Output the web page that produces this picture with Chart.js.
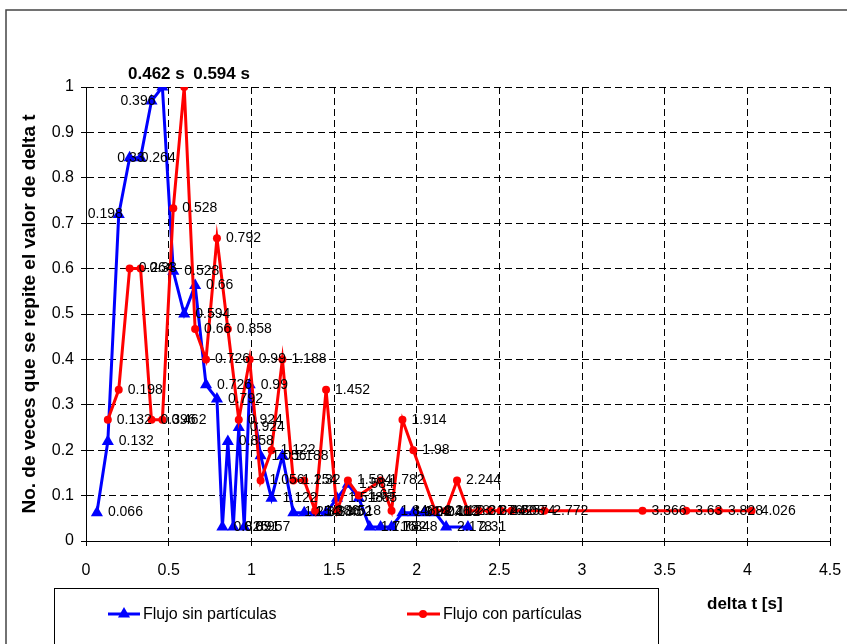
<!DOCTYPE html>
<html>
<head>
<meta charset="utf-8">
<script src="https://cdn.jsdelivr.net/npm/chart.js@4.4.1/dist/chart.umd.min.js"></script>
<style>
  body { margin: 0; background: #fff; }
  canvas { display: block; }
</style>
</head>
<body>
<canvas id="deltaChart" width="847" height="644"></canvas>
<script>
// Flujo sin particulas (delta t, frecuencia relativa)
const sinX = [0.066, 0.132, 0.198, 0.264, 0.33, 0.396, 0.462, 0.528, 0.594, 0.66, 0.726, 0.792,
    0.825, 0.858, 0.891, 0.924, 0.957, 0.99, 1.056, 1.122, 1.188, 1.254, 1.32, 1.386, 1.452,
    1.518, 1.584, 1.65, 1.716, 1.782, 1.848, 1.914, 1.98, 2.046, 2.112, 2.178, 2.31];
const sinY = [0.0625, 0.219, 0.719, 0.844, 0.844, 0.969, 1.0, 0.594, 0.5, 0.563, 0.344, 0.313,
    0.031, 0.219, 0.031, 0.25, 0.031, 0.344, 0.188, 0.094, 0.188, 0.0625, 0.0625, 0.0625, 0.0625,
    0.094, 0.125, 0.094, 0.031, 0.031, 0.031, 0.0625, 0.0625, 0.0625, 0.0625, 0.031, 0.031];

// Flujo con particulas
const conX = [0.132, 0.198, 0.264, 0.33, 0.396, 0.462, 0.528, 0.594, 0.66, 0.726, 0.792, 0.858,
    0.924, 0.99, 1.056, 1.122, 1.188, 1.254, 1.32, 1.386, 1.452, 1.518, 1.584, 1.65, 1.782,
    1.848, 1.914, 1.98, 2.112, 2.178, 2.244, 2.31, 2.376, 2.442, 2.508, 2.574, 2.772, 3.366,
    3.63, 3.828, 4.026];
const conY = [0.267, 0.333, 0.6, 0.6, 0.267, 0.267, 0.733, 1.0, 0.467, 0.4, 0.667, 0.467,
    0.267, 0.4, 0.133, 0.2, 0.4, 0.133, 0.133, 0.0667, 0.333, 0.0667, 0.133, 0.1, 0.133,
    0.0667, 0.267, 0.2, 0.0667, 0.0667, 0.133, 0.0667, 0.0667, 0.0667, 0.0667, 0.0667, 0.0667, 0.0667,
    0.0667, 0.0667, 0.0667];

// Axis ticks
const xTicks = [0, 0.5, 1, 1.5, 2, 2.5, 3, 3.5, 4, 4.5];
const yTicks = [0, 0.1, 0.2, 0.3, 0.4, 0.5, 0.6, 0.7, 0.8, 0.9, 1];

const seriesNames = ['Flujo sin partículas', 'Flujo con partículas'];
const FONT = 'Arial, "Liberation Sans", sans-serif';

// blue labels that were moved to the left of their point
const leftLabels = [0.198, 0.33, 0.396];

function toPoints(xs, ys) {
    return xs.map((x, i) => ({ x: x, y: ys[i] }));
}

function triangle(ctx, x, y, r) {
    ctx.beginPath();
    ctx.moveTo(x, y - r);
    ctx.lineTo(x + r * 0.866, y + r * 0.5);
    ctx.lineTo(x - r * 0.866, y + r * 0.5);
    ctx.closePath();
    ctx.fill();
}

// Data labels, titles, legend box and frame
const extras = {
    id: 'extras',
    afterDatasetsDraw(chart) {
        const ctx = chart.ctx;
        ctx.save();
        ctx.fillStyle = '#000';
        ctx.textBaseline = 'middle';
        chart.data.datasets.forEach((ds, di) => {
            const meta = chart.getDatasetMeta(di);
            const maxY = Math.max(...ds.data.map(p => p.y));
            meta.data.forEach((pt, i) => {
                const v = ds.data[i];
                if (v.y === maxY) {
                    ctx.font = 'bold 17px ' + FONT;
                    if (di === 0) {
                        ctx.textAlign = 'center';
                        ctx.fillText(v.x + ' s', pt.x - 6, pt.y - 13);
                    } else {
                        ctx.textAlign = 'left';
                        ctx.fillText(v.x + ' s', pt.x + 9, pt.y - 13);
                    }
                    return;
                }
                ctx.font = '14px ' + FONT;
                if (di === 0 && leftLabels.includes(v.x)) {
                    ctx.textAlign = 'right';
                    ctx.fillText(String(v.x), pt.x + 4, pt.y);
                } else {
                    ctx.textAlign = 'left';
                    ctx.fillText(String(v.x), pt.x + (di === 0 ? 11 : 9), pt.y);
                }
            });
        });
        ctx.restore();
    },
    afterDraw(chart) {
        const ctx = chart.ctx;
        const area = chart.chartArea;
        ctx.save();

        // outer frame
        ctx.strokeStyle = '#444';
        ctx.lineWidth = 1.5;
        ctx.strokeRect(6, 10, 900, 900);

        // y axis title
        ctx.fillStyle = '#000';
        ctx.font = 'bold 19px ' + FONT;
        ctx.textAlign = 'center';
        ctx.textBaseline = 'middle';
        ctx.save();
        ctx.translate(30, (area.top + area.bottom) / 2);
        ctx.rotate(-Math.PI / 2);
        ctx.fillText('No. de veces que se repite el valor de delta t', 0, 0);
        ctx.restore();

        // x axis title
        ctx.font = 'bold 17px ' + FONT;
        ctx.textAlign = 'left';
        ctx.fillText('delta t [s]', 707, 604);

        // legend
        ctx.strokeStyle = '#000';
        ctx.lineWidth = 1;
        ctx.strokeRect(54.5, 588.5, 604, 80);
        ctx.font = '16px ' + FONT;
        ctx.lineWidth = 3;

        ctx.strokeStyle = '#0000ff';
        ctx.fillStyle = '#0000ff';
        ctx.beginPath(); ctx.moveTo(108, 614); ctx.lineTo(140, 614); ctx.stroke();
        triangle(ctx, 124, 614, 7);

        ctx.strokeStyle = '#ff0000';
        ctx.fillStyle = '#ff0000';
        ctx.beginPath(); ctx.moveTo(407, 614); ctx.lineTo(440, 614); ctx.stroke();
        ctx.beginPath(); ctx.arc(423, 614, 4, 0, Math.PI * 2); ctx.fill();

        ctx.fillStyle = '#000';
        ctx.fillText(seriesNames[0], 143, 615);
        ctx.fillText(seriesNames[1], 443, 615);
        ctx.restore();
    }
};

const gridOpts = {
    color: '#000',
    lineWidth: 1,
    tickLength: 5,
    tickColor: '#000',
    tickBorderDash: []
};

new Chart(document.getElementById('deltaChart'), {
    type: 'scatter',
    data: {
        datasets: [{
            label: seriesNames[0],
            data: toPoints(sinX, sinY),
            showLine: true,
            borderColor: '#0000ff',
            backgroundColor: '#0000ff',
            borderWidth: 3,
            pointStyle: 'triangle',
            pointRadius: 7,
            pointBorderWidth: 0,
            order: 1
        }, {
            label: seriesNames[1],
            data: toPoints(conX, conY),
            showLine: true,
            borderColor: '#ff0000',
            backgroundColor: '#ff0000',
            borderWidth: 3,
            pointStyle: 'circle',
            pointRadius: 4,
            pointBorderWidth: 0,
            order: 0
        }]
    },
    options: {
        responsive: false,
        animation: false,
        layout: { padding: { left: 0, top: 87, right: 17, bottom: 0 } },
        plugins: {
            legend: { display: false },
            tooltip: { enabled: false }
        },
        scales: {
            x: {
                type: 'linear',
                min: 0,
                max: 4.5,
                afterBuildTicks: s => { s.ticks = xTicks.map(v => ({ value: v })); },
                afterFit: s => { s.height = 103; s.paddingLeft = 0; s.paddingRight = 0; },
                grid: gridOpts,
                border: { display: true, color: '#000', width: 1, dash: [7, 4] },
                ticks: {
                    color: '#000',
                    padding: 15,
                    maxRotation: 0,
                    font: { family: FONT, size: 16 },
                    callback: v => String(v)
                }
            },
            y: {
                type: 'linear',
                min: 0,
                max: 1,
                afterBuildTicks: s => { s.ticks = yTicks.map(v => ({ value: v })); },
                afterFit: s => { s.width = 86; s.paddingTop = 0; s.paddingBottom = 0; },
                grid: gridOpts,
                border: { display: true, color: '#000', width: 1, dash: [7, 4] },
                ticks: {
                    color: '#000',
                    padding: 7,
                    font: { family: FONT, size: 16 },
                    callback: v => String(v)
                }
            }
        }
    },
    plugins: [extras]
});
</script>
</body>
</html>
